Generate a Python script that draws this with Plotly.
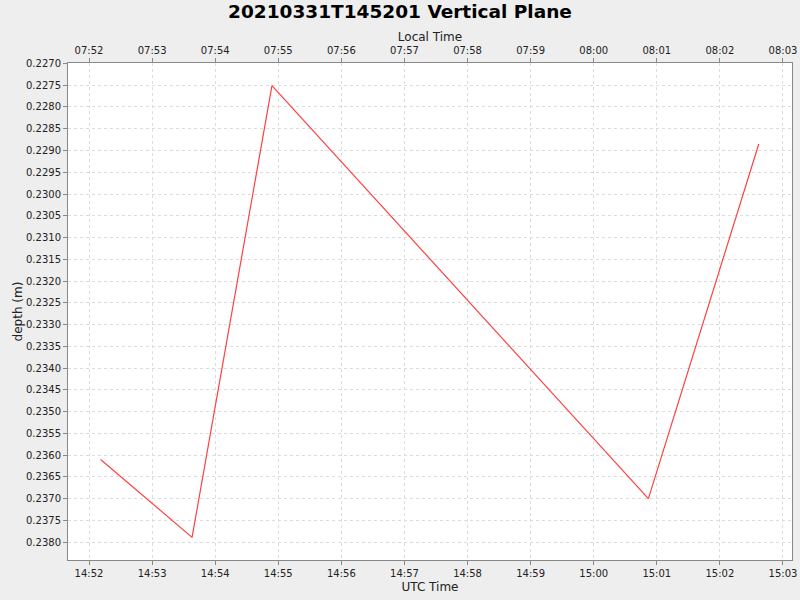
import plotly.graph_objects as go
import pandas as pd

utc_times = ["2021-03-31 14:52:11", "2021-03-31 14:53:38", "2021-03-31 14:54:54",
             "2021-03-31 15:00:52", "2021-03-31 15:02:37"]
depth = [0.23610, 0.23789, 0.22751, 0.23700, 0.22885]
local_offset_hours = -7

utc = pd.to_datetime(utc_times)
local = utc + pd.Timedelta(hours=local_offset_hours)

x_range_utc = [pd.Timestamp("2021-03-31 14:51:40"), pd.Timestamp("2021-03-31 15:03:08.6")]
x_range_local = [t + pd.Timedelta(hours=local_offset_hours) for t in x_range_utc]

FONT = "DejaVu Sans"
fig = go.Figure()
fig.add_trace(go.Scatter(x=utc, y=depth, mode="lines",
                         line=dict(color="#FF4040", width=1.2), xaxis="x", yaxis="y",
                         showlegend=False))
fig.add_trace(go.Scatter(x=local, y=depth, mode="lines", opacity=0,
                         line=dict(color="rgba(0,0,0,0)"), xaxis="x2", yaxis="y",
                         showlegend=False, hoverinfo="skip"))

axcommon = dict(showgrid=True, gridcolor="#DDDDDD", griddash="3px,3px", gridwidth=1,
                showline=True, linecolor="#888888", linewidth=1,
                ticks="outside", ticklen=4, tickcolor="#888888",
                tickfont=dict(family=FONT, size=10, color="#222222"),
                zeroline=False, automargin=False)

fig.update_layout(
    width=800, height=600,
    paper_bgcolor="#EEEEEE", plot_bgcolor="#FFFFFF",
    margin=dict(l=68, r=8, t=63, b=40),
    title=dict(text="<b>20210331T145201 Vertical Plane</b>", x=0.5, xanchor="center",
               y=0.98, yanchor="middle",
               font=dict(family=FONT, size=18.5, color="#000000")),
    font=dict(family=FONT, color="#222222"),
    xaxis=dict(axcommon, range=x_range_utc, tickformat="%H:%M", dtick=60000,
               title=dict(text="UTC Time", font=dict(family=FONT, size=12), standoff=4)),
    xaxis2=dict(axcommon, range=x_range_local, tickformat="%H:%M", dtick=60000,
                overlaying="x", side="top", showgrid=False,
                title=dict(text="Local Time", font=dict(family=FONT, size=12), standoff=0)),
    yaxis=dict(axcommon, range=[0.23841, 0.22699], dtick=0.0005, tick0=0.2270,
               tickformat=".4f", mirror=True,
               title=dict(text="depth (m)", font=dict(family=FONT, size=12), standoff=0)),
)

fig.write_html("out.html", config={"displayModeBar": False},
               post_script="document.body.style.margin='0';document.body.style.background='#EEEEEE';")
